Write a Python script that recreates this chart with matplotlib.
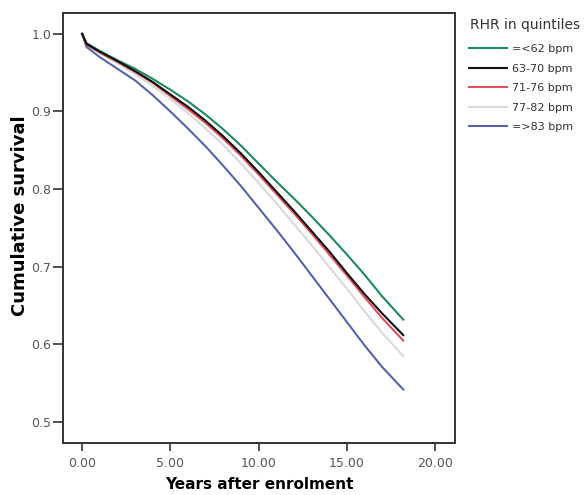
import numpy as np
import matplotlib
matplotlib.use("Agg")
import matplotlib.pyplot as plt

years = [0, 0.25, 1, 2, 3, 4, 5, 6, 7, 8, 9, 10, 11, 12, 13, 14, 15, 16, 17, 18.2]

surv_le62 = [1.0, 0.988, 0.978, 0.966, 0.955, 0.942, 0.928, 0.913, 0.896, 0.877,
             0.856, 0.833, 0.810, 0.788, 0.765, 0.741, 0.716, 0.690, 0.662, 0.632]
surv_63_70 = [1.0, 0.987, 0.977, 0.965, 0.952, 0.938, 0.922, 0.906, 0.888, 0.868,
              0.846, 0.822, 0.797, 0.772, 0.746, 0.720, 0.692, 0.665, 0.640, 0.612]
surv_71_76 = [1.0, 0.986, 0.976, 0.964, 0.951, 0.937, 0.920, 0.903, 0.885, 0.865,
              0.843, 0.819, 0.794, 0.769, 0.743, 0.716, 0.689, 0.661, 0.634, 0.605]
surv_77_82 = [1.0, 0.986, 0.975, 0.962, 0.948, 0.933, 0.916, 0.898, 0.878, 0.857,
              0.833, 0.808, 0.782, 0.755, 0.728, 0.700, 0.672, 0.643, 0.615, 0.585]
surv_ge83 = [1.0, 0.983, 0.970, 0.955, 0.940, 0.921, 0.900, 0.878, 0.855, 0.830,
             0.804, 0.776, 0.748, 0.719, 0.689, 0.659, 0.629, 0.599, 0.571, 0.542]

labels = ["=<62 bpm", "63-70 bpm", "71-76 bpm", "77-82 bpm", "=>83 bpm"]
series = [surv_le62, surv_63_70, surv_71_76, surv_77_82, surv_ge83]
colors = ["#1e8a5c", "#111111", "#e0505c", "#d9d9d9", "#5563a8"]

x_ticks = [0, 5, 10, 15, 20]
y_ticks = [0.5, 0.6, 0.7, 0.8, 0.9, 1.0]

fig = plt.figure(figsize=(5.84, 4.95), dpi=100)
ax = fig.add_axes([0.108, 0.105, 0.671, 0.869])

# light grey first so the darker lines sit on top
order = [3, 4, 0, 2, 1]
handles = {}
for i in order:
    h, = ax.plot(years, series[i], color=colors[i], lw=1.5, label=labels[i])
    handles[i] = h

ax.set_xlim(-1.08, 21.13)
ax.set_ylim(0.473, 1.027)
ax.set_xticks(x_ticks)
ax.set_xticklabels(["%.2f" % v for v in x_ticks])
ax.set_yticks(y_ticks)
ax.set_yticklabels(["%.1f" % v for v in y_ticks])

for s in ax.spines.values():
    s.set_linewidth(1.4)
    s.set_color("#333333")
ax.tick_params(direction="out", width=1.2, color="#333333",
               labelsize=9, labelcolor="#555555")
ax.tick_params(axis="x", length=6, pad=4)
ax.tick_params(axis="y", length=7, pad=1.5)

ax.set_xlabel("Years after enrolment", fontsize=11, fontweight="bold", labelpad=5)
ax.set_ylabel("Cumulative survival", fontsize=13, fontweight="bold")
ax.yaxis.set_label_coords(-0.086, 0.528)

fig.text(470 / 584, 1 - 25 / 495, "RHR in quintiles", fontsize=10,
         color="#333333", ha="left", va="center")
leg = fig.legend([handles[i] for i in range(5)], labels,
                 loc="upper left", bbox_to_anchor=(0.803, 0.911),
                 frameon=False, prop={"size": 8},
                 handlelength=3.4, handletextpad=0.45, labelspacing=0.86,
                 borderaxespad=0, borderpad=0)
for t in leg.get_texts():
    t.set_color("#333333")

fig.savefig("out.png", dpi=100)
